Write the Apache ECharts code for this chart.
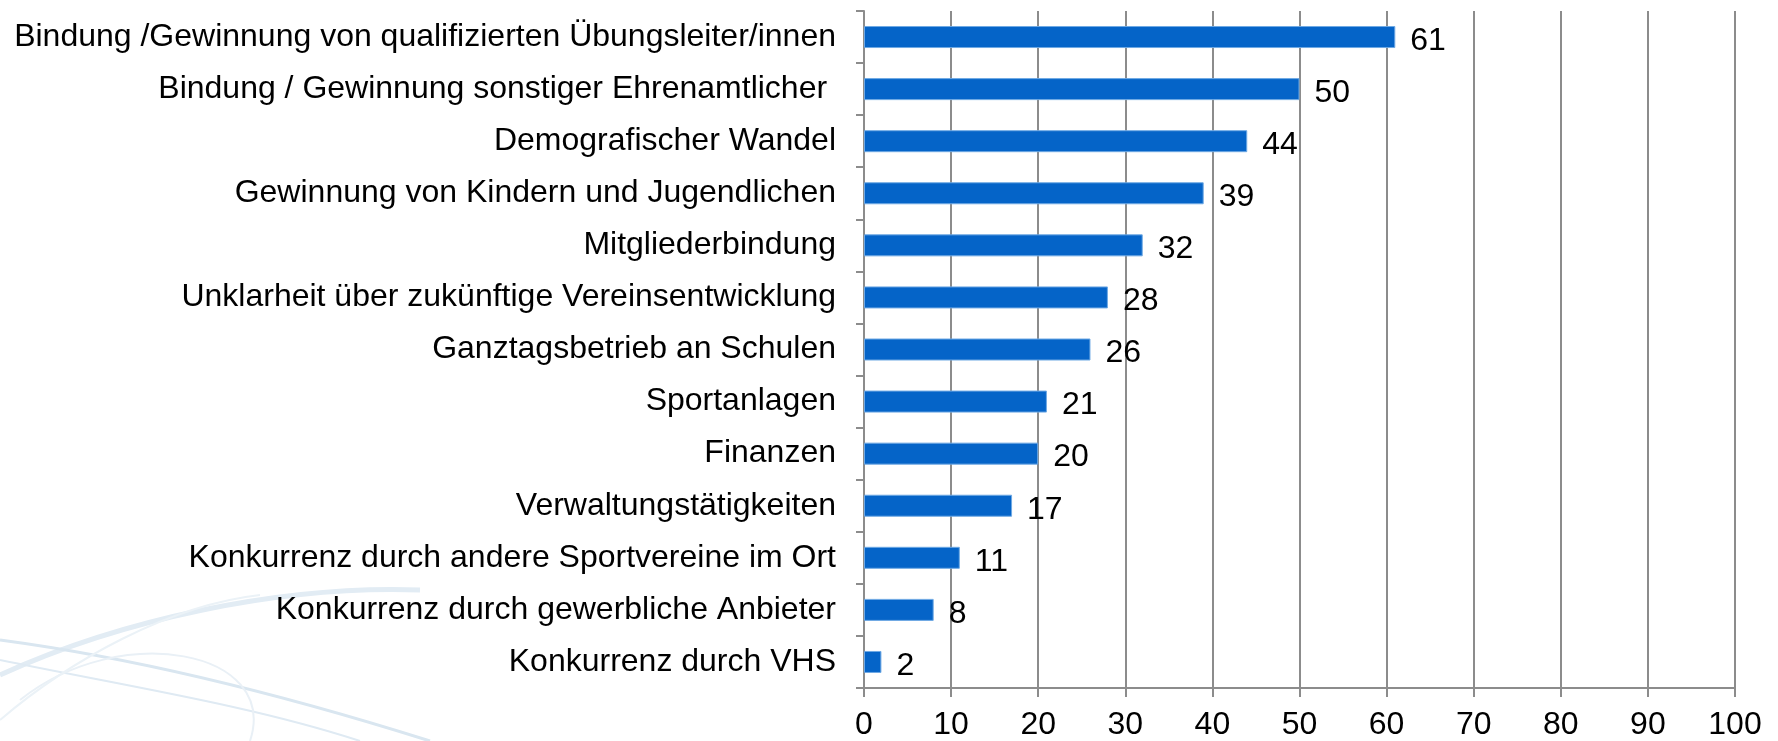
<!DOCTYPE html>
<html>
<head>
<meta charset="utf-8">
<script src="https://cdn.jsdelivr.net/npm/echarts@6/dist/echarts.min.js"></script>
<style>
  html, body { margin: 0; padding: 0; background: #fff; }
  #chart { width: 1778px; height: 741px; }
</style>
</head>
<body>
<div id="chart"></div>
<script>
// Kategorien von oben nach unten
var categories = [
  'Bindung /Gewinnung von qualifizierten Übungsleiter/innen',
  'Bindung / Gewinnung sonstiger Ehrenamtlicher ',
  'Demografischer Wandel',
  'Gewinnung von Kindern und Jugendlichen',
  'Mitgliederbindung',
  'Unklarheit über zukünftige Vereinsentwicklung',
  'Ganztagsbetrieb an Schulen',
  'Sportanlagen',
  'Finanzen',
  'Verwaltungstätigkeiten',
  'Konkurrenz durch andere Sportvereine im Ort',
  'Konkurrenz durch gewerbliche Anbieter',
  'Konkurrenz durch VHS'
];
var values = [61, 50, 44, 39, 32, 28, 26, 21, 20, 17, 11, 8, 2];

var chart = echarts.init(document.getElementById('chart'));

var font = 'Liberation Sans, Arial, sans-serif';

var option = {
  backgroundColor: '#fff',
  animation: false,
  // dezente Linien unten links (Hintergrund der Folie)
  graphic: [
    { type: 'bezierCurve', z: -1, shape: { x1: 0, y1: 675, x2: 420, y2: 590, cpx1: 120, cpy1: 620, cpx2: 280, cpy2: 585 }, style: { stroke: '#e2ecf4', lineWidth: 5, fill: null } },
    { type: 'bezierCurve', z: -1, shape: { x1: 0, y1: 640, x2: 430, y2: 741, cpx1: 150, cpy1: 660, cpx2: 300, cpy2: 700 }, style: { stroke: '#d9e6f0', lineWidth: 3, fill: null } },
    { type: 'bezierCurve', z: -1, shape: { x1: 0, y1: 660, x2: 360, y2: 741, cpx1: 120, cpy1: 685, cpx2: 250, cpy2: 705 }, style: { stroke: '#dfeaf3', lineWidth: 2, fill: null } },
    { type: 'bezierCurve', z: -1, shape: { x1: 20, y1: 700, x2: 250, y2: 741, cpx1: 120, cpy1: 620, cpx2: 280, cpy2: 650 }, style: { stroke: '#e9f0f6', lineWidth: 2, fill: null } },
    { type: 'bezierCurve', z: -1, shape: { x1: 0, y1: 720, x2: 260, y2: 595, cpx1: 70, cpy1: 660, cpx2: 170, cpy2: 605 }, style: { stroke: '#ebf2f7', lineWidth: 2, fill: null } }
  ],
  grid: {
    left: 864,
    right: 43,
    top: 11,
    bottom: 53,
    containLabel: false
  },
  xAxis: {
    type: 'value',
    min: 0,
    max: 100,
    interval: 10,
    axisLine: { show: true, lineStyle: { color: '#8c8c8c', width: 2 } },
    axisTick: { show: true, length: 9, lineStyle: { color: '#8c8c8c', width: 2 } },
    splitLine: { show: true, lineStyle: { color: '#8c8c8c', width: 2 } },
    axisLabel: { color: '#000', fontSize: 32, fontFamily: font, margin: 21 }
  },
  yAxis: {
    type: 'category',
    data: categories,
    inverse: true,
    axisLine: { show: true, lineStyle: { color: '#8c8c8c', width: 2 } },
    axisTick: { show: true, length: 8, lineStyle: { color: '#8c8c8c', width: 2 } },
    axisLabel: { color: '#000', fontSize: 32, fontFamily: font, margin: 28 }
  },
  series: [{
    type: 'bar',
    data: values,
    barWidth: 22,
    itemStyle: { color: '#0564C8', borderColor: '#6fa9e4', borderWidth: 1 },
    label: {
      show: true,
      position: 'right',
      distance: 15,
      color: '#000',
      fontSize: 32,
      fontFamily: font,
      offset: [0, 4]
    }
  }]
};

chart.setOption(option);
</script>
</body>
</html>
